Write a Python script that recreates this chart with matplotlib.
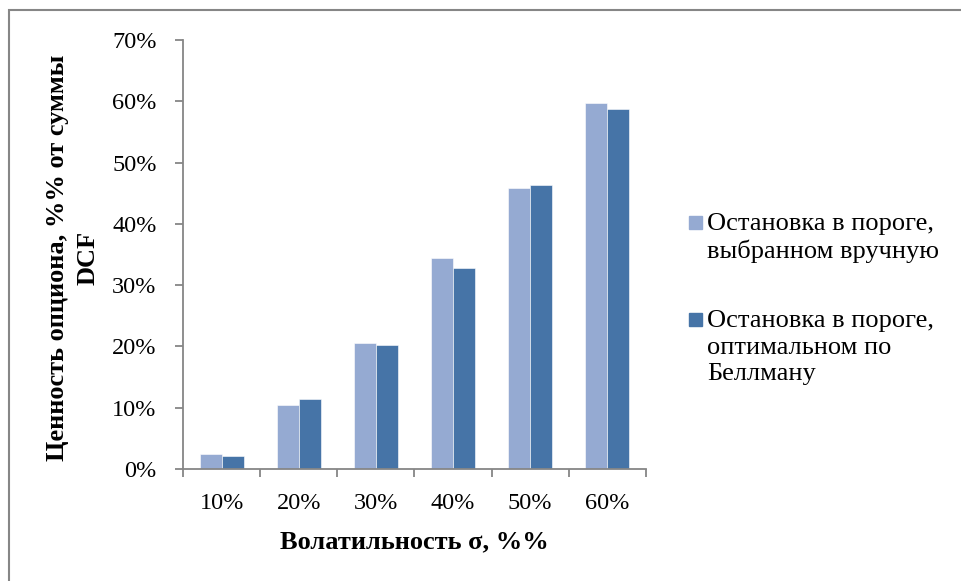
import matplotlib
matplotlib.use('Agg')
import matplotlib.pyplot as plt
import matplotlib.patches as mpatches
from matplotlib.ticker import FuncFormatter, FixedLocator
import numpy as np

# Chart data
categories = ['10%', '20%', '30%', '40%', '50%', '60%']
manual_threshold = [0.024, 0.104, 0.205, 0.345, 0.459, 0.598]
bellman_threshold = [0.022, 0.114, 0.203, 0.328, 0.464, 0.587]
series_names = ['Остановка в пороге,\nвыбранном вручную',
                'Остановка в пороге,\nоптимальном по\nБеллману']

LIGHT = '#95AAD2'
DARK = '#4674A7'
AXIS_GREY = '#868686'

plt.rcParams['font.family'] = ['Liberation Serif', 'DejaVu Serif']

fig = plt.figure(figsize=(9.62, 5.81), dpi=100, facecolor='white')
ax = fig.add_axes([183 / 962, 1 - 469 / 581, (646 - 183) / 962, (469 - 40) / 581])

x = np.arange(len(categories))
width = 1 / 3.5  # excel gap width 150%
ax.bar(x - width / 2, manual_threshold, width, color=LIGHT, edgecolor='white', linewidth=0.4)
ax.bar(x + width / 2, bellman_threshold, width, color=DARK, edgecolor='white', linewidth=0.4)

ax.set_xlim(-0.5, len(categories) - 0.5)
ax.set_ylim(0, 0.7)
ax.set_yticks(np.arange(0, 0.71, 0.1))
ax.yaxis.set_major_formatter(FuncFormatter(lambda v, _: f'{v:.0%}'))

# category separators as major ticks, labels on minor ticks
ax.xaxis.set_major_locator(FixedLocator(np.arange(-0.5, len(categories), 1.0)))
ax.xaxis.set_major_formatter(FuncFormatter(lambda v, _: ''))
ax.xaxis.set_minor_locator(FixedLocator(x))
ax.set_xticklabels(categories, minor=True)
ax.tick_params(axis='x', which='minor', length=0, pad=17, labelsize=17.5)
ax.tick_params(axis='x', which='major', length=6, width=1.3, color=AXIS_GREY)
ax.tick_params(axis='y', length=6, width=1.3, color=AXIS_GREY, pad=13, labelsize=17.5)

for side in ['top', 'right']:
    ax.spines[side].set_visible(False)
for side in ['left', 'bottom']:
    ax.spines[side].set_color(AXIS_GREY)
    ax.spines[side].set_linewidth(1.3)

ax.set_xlabel('Волатильность σ, %%', fontsize=19, fontweight='bold', labelpad=12)

fig.text(72.5 / 962, 1 - 258 / 581, 'Ценность опциона, %% от суммы\nDCF', rotation=90,
         ha='center', va='center', fontsize=19, fontweight='bold', multialignment='center',
         linespacing=1.4)

# legend drawn by hand so the swatch sits on the first line
legend_rows = [225, 322]
for name, color, y_px in zip(series_names, [LIGHT, DARK], legend_rows):
    fig.add_artist(mpatches.Rectangle((689 / 962, 1 - (y_px + 4) / 581), 13 / 962, 13 / 581,
                                      transform=fig.transFigure, color=color))
    fig.text(707 / 962, 1 - (y_px - 12) / 581, name, ha='left', va='top', fontsize=19,
             linespacing=1.27)

# outer chart border
fig.add_artist(mpatches.Rectangle((9 / 962, -0.05), 1.0, 1.05 - 10.5 / 581, transform=fig.transFigure,
                                  fill=False, edgecolor=AXIS_GREY, linewidth=1.5))

fig.savefig('out.png', dpi=100, facecolor='white')
